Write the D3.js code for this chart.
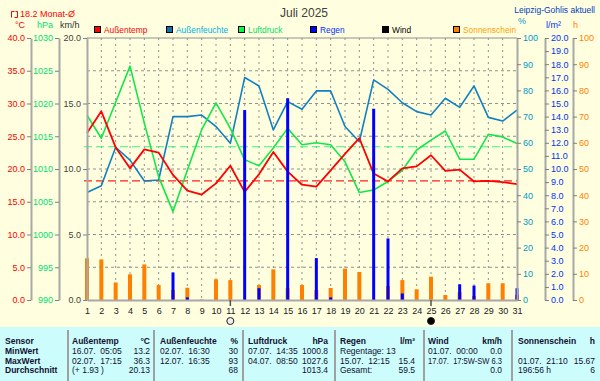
<!DOCTYPE html>
<html>
<head>
<meta charset="utf-8">
<script src="https://cdn.jsdelivr.net/npm/d3@7"></script>
<style>
  body { margin: 0; background: #ffffe0; }
  svg { display: block; font-family: "Liberation Sans", Arial, sans-serif; }
</style>
</head>
<body>
<svg id="chart" width="600" height="381"></svg>
<script>
// the data (one value per day)
var days = [1, 2, 3, 4, 5, 6, 7, 8, 9, 10, 11, 12, 13, 14, 15, 16, 17, 18, 19, 20, 21, 22, 23, 24, 25, 26, 27, 28, 29, 30, 31];
var temp = [25.5, 28.8, 23.3, 20.1, 23.0, 22.5, 19.1, 16.7, 16.1, 17.8, 20.5, 16.5, 19.2, 22.6, 19.6, 17.6,
  17.3, 19.8, 22.3, 24.7, 19.3, 18.1, 20.1, 20.4, 22.1, 19.7, 19.9, 18.1, 18.2, 18.0, 17.7];
var humidity = [41, 43.6, 58.3, 53.4, 45.4, 45.8, 70, 70, 70.6, 66.2, 59.8, 84.9, 81.7, 64.9, 75.7, 72.8,
  79.8, 79.8, 66.2, 60.4, 84.0, 80.4, 75.3, 71.9, 70.6, 77.0, 73.5, 81.7, 69.7, 68.3, 72.5];
var pressure = [1018.2, 1014.7, 1020.2, 1025.7, 1017.0, 1008.8, 1003.5, 1009.8, 1016.0, 1020.1, 1016.2, 1011.4,
  1010.5, 1013.2, 1016.2, 1013.7, 1014.0, 1013.7, 1011.1, 1006.4, 1006.8, 1008.1, 1009.8, 1012.9, 1014.4,
  1015.8, 1011.5, 1011.5, 1015.3, 1014.9, 1013.9];
var rain = [0, 0, 0, 0, 0, 0, 2.1, 0.2, 0, 0, 0, 14.5, 0.9, 0, 15.4, 0, 3.2, 0.2, 0, 0, 14.6, 4.7, 0.5,
  0, 0, 0, 1.2, 1.1, 0, 0, 0.9];
var sunshine = [15.9, 15.5, 6.7, 9.8, 13.6, 5.7, 3.8, 4.7, 0.2, 7.9, 7.6, 0, 5.7, 11.7, 4.5, 5.7, 3.8, 4.6,
  12.0, 10.7, 0.3, 5.3, 7.6, 4.1, 8.9, 1.9, 3.0, 1.5, 6.4, 6.4, 1.9];
var wind = [0, 0, 0, 0, 0, 0, 0, 0, 0, 0, 0, 0, 0, 0, 0, 0, 0, 0, 0, 0, 0, 0, 0, 0, 0, 0, 0, 0, 0, 0, 0];
var tempMonthAvg = 18.2;
var pressureAvg = 1013.4;
var fullMoonDay = 11;
var newMoonDay = 25;

// tick labels for the six axes
var tempTicks = [0, 5, 10, 15, 20, 25, 30, 35, 40];
var pressTicks = [990, 995, 1000, 1005, 1010, 1015, 1020, 1025, 1030];
var windTicks = [0, 5, 10, 15, 20];
var gridTicks = [2.5, 5, 7.5, 10, 12.5, 15, 17.5];
var humTicks = [0, 10, 20, 30, 40, 50, 60, 70, 80, 90, 100];
var rainTicks = [0, 1, 2, 3, 4, 5, 6, 7, 8, 9, 10, 11, 12, 13, 14, 15, 16, 17, 18, 19, 20];
var sunTicks = [0, 10, 20, 30, 40, 50, 60, 70, 80, 90, 100];

// legend
var legendNames = ['Außentemp', 'Außenfeuchte', 'Luftdruck', 'Regen', 'Wind', 'Sonnenschein'];
var legendBox = ['#ff0000', '#1070b0', '#00ff40', '#0000ff', '#000000', '#ff8000'];
var legendText = ['#ff0000', '#00b0e0', '#00e060', '#0030ff', '#000000', '#ffa000'];
var legendX = [94, 166, 238, 310, 382, 453];

// table below the chart
var rowNames = ['Sensor', 'MinWert', 'MaxWert', 'Durchschnitt'];
var tableCols = [
  { x: 72, r: 150, head: 'Außentemp', unit: '°C', left: ['16.07.  05:05', '02.07.  17:15', '(+ 1.93 )'], right: ['13.2', '36.3', '20.13'] },
  { x: 160, r: 238, head: 'Außenfeuchte', unit: '%', left: ['02.07.  16:30', '12.07.  16:35', ''], right: ['30', '93', '68'] },
  { x: 248, r: 328, head: 'Luftdruck', unit: 'hPa', left: ['07.07.  14:35', '04.07.  08:50', ''], right: ['1000.8', '1027.6', '1013.4'] },
  { x: 340, r: 415, head: 'Regen', unit: 'l/m²', left: ['Regentage: 13', '15.07.  12:15', 'Gesamt:'], right: ['', '15.4', '59.5'] },
  { x: 428, r: 502, head: 'Wind', unit: 'km/h', left: ['01.07.  00:00', '17.07.  17:5W-SW 6.3', ''], right: ['0.0', '', '0.0'] },
  { x: 518, r: 595, head: 'Sonnenschein', unit: 'h', left: ['', '01.07.  21:10', '196:56 h'], right: ['', '15.67', '6'] }
];
var tableSeps = [68, 154, 243, 335, 424, 512];

var svg = d3.select('#chart');
var top0 = 38, bot0 = 300;

//scales
var x = d3.scaleLinear().domain([1, 31]).range([87, 517]);
var yWind = d3.scaleLinear().domain([0, 20]).range([bot0, top0]);
var yTemp = d3.scaleLinear().domain([0, 40]).range([bot0, top0]);
var yPress = d3.scaleLinear().domain([990, 1030]).range([bot0, top0]);
var yHum = d3.scaleLinear().domain([0, 100]).range([bot0, top0]);
var yRain = d3.scaleLinear().domain([0, 20]).range([bot0, top0]);
var ySun = d3.scaleLinear().domain([0, 100]).range([bot0, top0]);

// grid
svg.append('g').selectAll('line')
  .data(days.slice(1, 30))
  .enter().append('line')
  .attr('x1', function (d) { return x(d); })
  .attr('x2', function (d) { return x(d); })
  .attr('y1', top0).attr('y2', bot0)
  .attr('stroke', '#909090')
  .style('stroke-dasharray', '2,4');

svg.append('g').selectAll('line')
  .data(gridTicks)
  .enter().append('line')
  .attr('x1', x(1)).attr('x2', x(31))
  .attr('y1', function (d) { return yWind(d); })
  .attr('y2', function (d) { return yWind(d); })
  .attr('stroke', '#909090')
  .style('stroke-dasharray', '3,3');

// top border
svg.append('line')
  .attr('x1', x(1)).attr('x2', x(31))
  .attr('y1', top0).attr('y2', top0)
  .attr('stroke', '#909090');

// average lines
svg.append('line')
  .attr('x1', 84).attr('x2', x(31))
  .attr('y1', yTemp(tempMonthAvg)).attr('y2', yTemp(tempMonthAvg))
  .attr('stroke', '#ff2020').attr('stroke-width', 1.2)
  .style('stroke-dasharray', '8,4');
svg.append('line')
  .attr('x1', 84).attr('x2', x(31))
  .attr('y1', yPress(pressureAvg)).attr('y2', yPress(pressureAvg))
  .attr('stroke', '#40f080').attr('stroke-width', 1.2)
  .style('stroke-dasharray', '8,4');

// sunshine and rain bars
svg.append('g').selectAll('rect')
  .data(sunshine)
  .enter().append('rect')
  .attr('x', function (d, i) { return x(days[i]) - 2; })
  .attr('width', 4)
  .attr('y', function (d) { return ySun(d); })
  .attr('height', function (d) { return bot0 - ySun(d); })
  .attr('fill', '#ff8000');

//the lines
function drawLine(values, yScale, color, w) {
  var line = d3.line()
    .x(function (d, i) { return x(days[i]); })
    .y(function (d) { return yScale(d); });
  svg.append('path')
    .datum(values)
    .attr('d', line)
    .attr('fill', 'none')
    .attr('stroke', color)
    .attr('stroke-width', w)
    .attr('stroke-linejoin', 'round');
}
drawLine(humidity, yHum, '#1080c0', 1.6);
drawLine(pressure, yPress, '#10e848', 1.6);
drawLine(temp, yTemp, '#ff0000', 1.8);

svg.append('g').selectAll('rect')
  .data(rain)
  .enter().append('rect')
  .attr('x', function (d, i) { return x(days[i]) - 1.5; })
  .attr('width', 3)
  .attr('y', function (d) { return yRain(d); })
  .attr('height', function (d) { return bot0 - yRain(d); })
  .attr('fill', '#0000ff');

svg.append('g').selectAll('rect')
  .data(wind)
  .enter().append('rect')
  .attr('x', function (d, i) { return x(days[i]) - 1; })
  .attr('width', 2)
  .attr('y', function (d) { return yWind(d); })
  .attr('height', function (d) { return bot0 - yWind(d); })
  .attr('fill', '#000000');

// axes
function drawAxis(scale, xPos, side, ticks, fmt, color) {
  var axis = (side === 'left' ? d3.axisLeft(scale) : d3.axisRight(scale))
    .tickValues(ticks)
    .tickFormat(d3.format(fmt))
    .tickSize(4)
    .tickSizeOuter(0)
    .tickPadding(2);
  var g = svg.append('g')
    .attr('transform', 'translate(' + xPos + ',0)')
    .call(axis);
  g.select('.domain').attr('stroke', '#a8a8a8').attr('stroke-width', 2);
  g.selectAll('.tick line').attr('stroke', '#808080');
  g.selectAll('.tick text')
    .attr('fill', color)
    .style('font-size', '9px')
    .style('font-family', '"Liberation Sans", Arial, sans-serif');
  return g;
}
drawAxis(yTemp, 31, 'left', tempTicks, '.1f', '#ff0000');
drawAxis(yPress, 59, 'left', pressTicks, 'd', '#00e070');
drawAxis(yWind, 87, 'left', windTicks, '.1f', '#404040');
drawAxis(yHum, 517, 'right', humTicks, 'd', '#0098c8');
drawAxis(yRain, 545, 'right', rainTicks, '.1f', '#0030ff');
drawAxis(ySun, 573, 'right', sunTicks, 'd', '#ff8000');

var xAxis = svg.append('g')
  .attr('transform', 'translate(0,' + bot0 + ')')
  .call(d3.axisBottom(x).tickValues(days).tickFormat(d3.format('d')).tickSize(0).tickSizeOuter(0).tickPadding(8));
xAxis.select('.domain').attr('stroke', '#a8a8a8').attr('stroke-width', 2);
xAxis.selectAll('.tick text').attr('fill', '#202020').style('font-size', '9px');

// moon phases
[fullMoonDay, newMoonDay].forEach(function (d) {
  svg.append('line')
    .attr('x1', x(d)).attr('x2', x(d))
    .attr('y1', bot0).attr('y2', bot0 + 6)
    .attr('stroke', '#505050').attr('stroke-width', 1.5);
});
svg.append('circle')
  .attr('cx', x(fullMoonDay)).attr('cy', 321).attr('r', 3.5)
  .attr('fill', '#f0f0f0').attr('stroke', '#202020');
svg.append('circle')
  .attr('cx', x(newMoonDay)).attr('cy', 321).attr('r', 3.5)
  .attr('fill', '#000').attr('stroke', '#202020');

// titles and units
svg.append('text').attr('x', 304).attr('y', 17).attr('text-anchor', 'middle')
  .style('font-size', '12px').attr('fill', '#404040').text('Juli 2025');
svg.append('text').attr('x', 595).attr('y', 12.5).attr('text-anchor', 'end')
  .style('font-size', '8.5px').attr('fill', '#0040c0').text('Leipzig-Gohlis aktuell');
svg.append('path')
  .attr('d', 'M11.5,17.5 V11.5 H14.5 M14.5,17.5 H17.5 V11.5 H15.5')
  .attr('fill', 'none').attr('stroke', '#ff0000');
svg.append('text').attr('x', 20).attr('y', 17).style('font-size', '9px')
  .attr('fill', '#ff0000').text(tempMonthAvg.toFixed(1) + ' Monat-Ø');

var units = [
  { t: '°C', x: 15, y: 27.5, c: '#ff0000' }, { t: 'hPa', x: 37, y: 27.5, c: '#00e070' },
  { t: 'km/h', x: 60, y: 27.5, c: '#303030' }, { t: '%', x: 518, y: 24, c: '#0098c8' },
  { t: 'l/m²', x: 546, y: 28, c: '#0030ff' }, { t: 'h', x: 573, y: 27.5, c: '#ff8000' }
];
svg.append('g').selectAll('text')
  .data(units)
  .enter().append('text')
  .attr('x', function (d) { return d.x; })
  .attr('y', function (d) { return d.y; })
  .style('font-size', '9px')
  .attr('fill', function (d) { return d.c; })
  .text(function (d) { return d.t; });

// legend
var leg = svg.append('g').selectAll('g')
  .data(legendNames)
  .enter().append('g')
  .attr('transform', function (d, i) { return 'translate(' + legendX[i] + ',26)'; });
leg.append('rect')
  .attr('x', 0.5).attr('y', 0.5).attr('width', 6).attr('height', 6)
  .attr('fill', function (d, i) { return legendBox[i]; })
  .attr('stroke', '#000');
leg.append('text')
  .attr('x', 10).attr('y', 6.5)
  .style('font-size', '8.4px')
  .attr('fill', function (d, i) { return legendText[i]; })
  .text(function (d) { return d; });

// table
svg.append('rect').attr('x', 0).attr('y', 327).attr('width', 600).attr('height', 54).attr('fill', '#ccfcfc');
svg.append('g').selectAll('line')
  .data(tableSeps)
  .enter().append('line')
  .attr('x1', function (d) { return d; }).attr('x2', function (d) { return d; })
  .attr('y1', 330).attr('y2', 381)
  .attr('stroke', '#a0a0a0').attr('stroke-width', 2);

var rowY = [343.5, 353.5, 363.5, 373];
var tbl = svg.append('g').style('font-size', '8.5px').attr('fill', '#101030');
rowNames.forEach(function (r, i) {
  tbl.append('text').attr('x', 5).attr('y', rowY[i]).style('font-weight', 'bold').text(r);
});
tableCols.forEach(function (c) {
  tbl.append('text').attr('x', c.x).attr('y', rowY[0]).style('font-weight', 'bold').text(c.head);
  tbl.append('text').attr('x', c.r).attr('y', rowY[0]).attr('text-anchor', 'end').style('font-weight', 'bold').text(c.unit);
  c.left.forEach(function (t, i) {
    var el = tbl.append('text').attr('x', c.x).attr('y', rowY[i + 1])
      .style('white-space', 'pre').attr('xml:space', 'preserve').text(t);
    // long wind entry has to stop at the column's right edge
    if (el.node().getComputedTextLength() > c.r - c.x) {
      el.attr('textLength', c.r - c.x).attr('lengthAdjust', 'spacingAndGlyphs');
    }
  });
  c.right.forEach(function (t, i) {
    tbl.append('text').attr('x', c.r).attr('y', rowY[i + 1]).attr('text-anchor', 'end').text(t);
  });
});
</script>
</body>
</html>
